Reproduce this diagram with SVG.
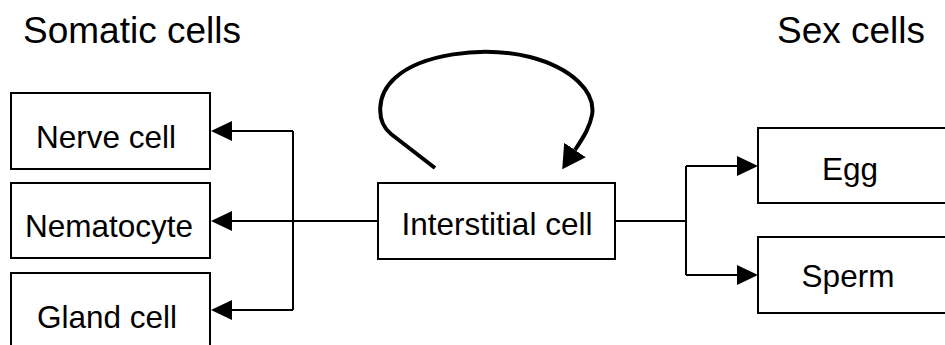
<svg xmlns="http://www.w3.org/2000/svg" width="945" height="345" viewBox="0 0 945 345">
  <style>
    .box { fill: #ffffff; stroke: #000000; stroke-width: 2; }
    .lbl { font-family: "Liberation Sans", Arial, sans-serif; font-size: 31.5px; fill: #000000; text-anchor: middle; }
    .hdr { font-family: "Liberation Sans", Arial, sans-serif; font-size: 37px; fill: #000000; }
    .conn { fill: none; stroke: #000000; stroke-width: 2; }
    .loop { fill: none; stroke: #000000; stroke-width: 4; }
  </style>
  <defs>
    <marker id="arrow" markerUnits="userSpaceOnUse" markerWidth="21" markerHeight="20" refX="0" refY="10" orient="auto">
      <path d="M0,0 L21,10 L0,20 Z" fill="#000000"/>
    </marker>
    <marker id="bigarrow" markerUnits="userSpaceOnUse" markerWidth="24" markerHeight="26" refX="0" refY="13" orient="auto">
      <path d="M0,0 L23,13 L0,26 Z" fill="#000000"/>
    </marker>
  </defs>
  <rect width="945" height="345" fill="#ffffff"/>

  <text class="hdr" x="23" y="43">Somatic cells</text>
  <text class="hdr" x="777" y="43">Sex cells</text>

  <g id="connectors">
    <path class="conn" d="M378,221 L232,221" marker-end="url(#arrow)"/>
    <path class="conn" d="M293,131 L293,310"/>
    <path class="conn" d="M293,131 L232,131" marker-end="url(#arrow)"/>
    <path class="conn" d="M293,310 L232,310" marker-end="url(#arrow)"/>
    <path class="conn" d="M615,221 L686,221"/>
    <path class="conn" d="M686,166 L686,275"/>
    <path class="conn" d="M686,166 L737,166" marker-end="url(#arrow)"/>
    <path class="conn" d="M686,275 L737,275" marker-end="url(#arrow)"/>
    <path class="loop" d="M435,168 L391,134 C376,122 376,95 395,78 C420,55 480,45 530,57 C572,68 596,92 592,115 C590,126 585,135 575,150" marker-end="url(#bigarrow)"/>
  </g>

  <g id="nerve-cell">
    <rect class="box" x="11" y="93" width="199" height="76"/>
    <text class="lbl" x="106" y="148">Nerve cell</text>
  </g>
  <g id="nematocyte">
    <rect class="box" x="11" y="183" width="199" height="75"/>
    <text class="lbl" x="109" y="237">Nematocyte</text>
  </g>
  <g id="gland-cell">
    <rect class="box" x="11" y="273" width="199" height="90"/>
    <text class="lbl" x="107" y="328">Gland cell</text>
  </g>
  <g id="interstitial-cell">
    <rect class="box" x="378" y="183" width="237" height="76"/>
    <text class="lbl" x="497" y="235">Interstitial cell</text>
  </g>
  <g id="egg">
    <rect class="box" x="758" y="128" width="200" height="75"/>
    <text class="lbl" x="850" y="180">Egg</text>
  </g>
  <g id="sperm">
    <rect class="box" x="758" y="237" width="200" height="76"/>
    <text class="lbl" x="848" y="287">Sperm</text>
  </g>
</svg>
